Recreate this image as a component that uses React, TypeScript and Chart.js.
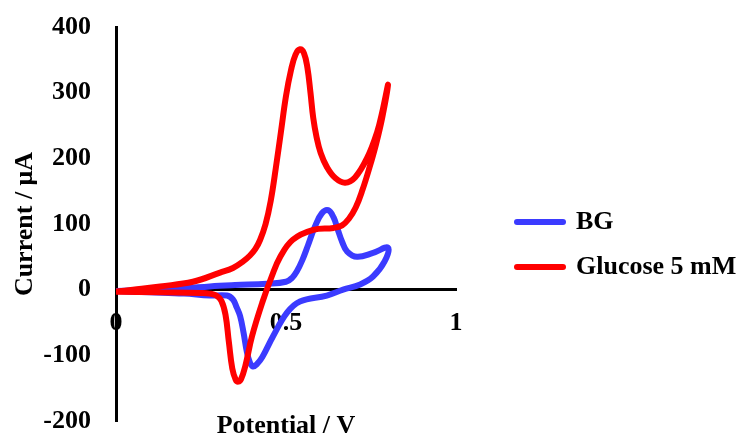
import React, { useEffect, useRef } from 'react';
import { Chart, registerables } from 'chart.js';

Chart.register(...registerables);

// ---- data ----
const X_TICKS = [0, 0.5, 1];
const Y_TICKS = [-200, -100, 0, 100, 200, 300, 400];
const SERIES_NAMES = ['BG', 'Glucose 5 mM'];
const X_TITLE = 'Potential / V';
const Y_TITLE = 'Current / μA';

// BG cyclic voltammogram: forward sweep then reverse sweep (V, μA)
const BG_V = [
  0, 0.05, 0.1, 0.2, 0.276, 0.35, 0.444, 0.5, 0.518, 0.532, 0.548, 0.565, 0.585, 0.605, 0.624, 0.64, 0.652, 0.665, 0.68, 0.709, 0.756, 0.8,
  0.79, 0.756, 0.718, 0.668, 0.62, 0.541, 0.503, 0.462, 0.43, 0.415, 0.403, 0.394, 0.385, 0.375, 0.365, 0.355, 0.344, 0.326, 0.276, 0.2, 0.1, 0,
];
const BG_I = [
  -2, -1, 0, 2, 5, 7, 9, 12, 18, 28, 45, 68, 96, 116, 121, 110, 92, 73, 58, 50, 56, 64,
  43, 20, 8, 0, -9, -18, -35, -71, -103, -113, -117, -111, -95, -65, -40, -27, -15, -9, -9, -6, -4, -2,
];

// Glucose 5 mM cyclic voltammogram (V, μA)
const GLU_V = [
  0, 0.13, 0.25, 0.276, 0.295, 0.31, 0.322, 0.332, 0.342, 0.352, 0.36, 0.368, 0.38, 0.4, 0.43, 0.458, 0.482, 0.52, 0.58, 0.64, 0.665, 0.685, 0.705, 0.725, 0.745, 0.765, 0.783, 0.8,
  0.785, 0.768, 0.738, 0.703, 0.674, 0.645, 0.62, 0.602, 0.59, 0.58, 0.572, 0.563, 0.553, 0.541, 0.528, 0.515, 0.5, 0.485, 0.47, 0.455, 0.44, 0.424, 0.41, 0.394, 0.374, 0.344, 0.306, 0.226, 0.13, 0.05, 0,
];
const GLU_I = [
  -3, -4, -5, -6, -9, -17, -38, -80, -120, -137, -140, -136, -117, -71, -20, 20, 49, 76, 91, 94, 98, 108, 125, 152, 185, 222, 262, 312,
  275, 240, 200, 171, 163, 170, 187, 208, 232, 262, 300, 338, 360, 366, 358, 335, 295, 240, 185, 135, 100, 76, 62, 52, 43, 33, 26, 12, 5, 0, -3,
];

const BLUE = '#3B3BFF';
const RED = '#FF0000';

const toPoints = (xs: number[], ys: number[]) => xs.map((x, i) => ({ x, y: ys[i] }));

export default function App() {
  const ref = useRef<HTMLCanvasElement | null>(null);

  useEffect(() => {
    if (!ref.current) return;
    const FONT = '"Liberation Serif", "Times New Roman", serif';
    Chart.defaults.color = '#000';
    Chart.defaults.font.family = FONT;

    const legendPlacer = {
      id: 'legendPlacer',
      afterLayout(chart: any) {
        const lg = chart.legend;
        if (!lg) return;
        const pad = lg.options.labels.padding;
        lg.left = 517 - pad;
        lg.right = chart.width;
        lg.width = lg.right - lg.left;
        lg.top = 222 - 13 - pad;
      },
    };

    const chart = new Chart(ref.current, {
      type: 'scatter',
      data: {
        datasets: [
          {
            label: SERIES_NAMES[0],
            data: toPoints(BG_V, BG_I),
            showLine: true,
            borderColor: BLUE,
            backgroundColor: BLUE,
            borderWidth: 6,
            pointRadius: 0,
            pointBorderWidth: 6,
            tension: 0.4,
            borderCapStyle: 'round',
            borderJoinStyle: 'round',
            order: 1,
          },
          {
            label: SERIES_NAMES[1],
            data: toPoints(GLU_V, GLU_I),
            showLine: true,
            borderColor: RED,
            backgroundColor: RED,
            borderWidth: 6,
            pointRadius: 0,
            pointBorderWidth: 6,
            tension: 0.4,
            borderCapStyle: 'round',
            borderJoinStyle: 'round',
            order: 0,
          },
        ],
      },
      options: {
        responsive: false,
        animation: false,
        devicePixelRatio: 1,
        layout: { padding: { top: 27, right: 85, bottom: 0, left: 0 } },
        plugins: {
          tooltip: { enabled: false },
          legend: {
            display: true,
            position: 'right',
            align: 'start',
            maxWidth: 200,
            labels: {
              usePointStyle: true,
              pointStyle: 'line',
              pointStyleWidth: 46,
              padding: 19,
              color: '#000',
              font: { family: FONT, size: 26, weight: 'bold' },
              sort: (a: any, b: any) => a.datasetIndex - b.datasetIndex,
              generateLabels: (c: any) =>
                (Chart.defaults.plugins.legend.labels.generateLabels as any)(c).map((l: any) => ({
                  ...l,
                  lineCap: 'round',
                  lineWidth: 6,
                })),
            },
          },
        },
        scales: {
          x: {
            type: 'linear',
            position: { y: 0 } as any,
            min: X_TICKS[0],
            max: X_TICKS[X_TICKS.length - 1],
            afterFit: (s: any) => {
              s.height = 0;
            },
            grid: { display: false, drawTicks: true, tickLength: 18 },
            border: { display: true, color: '#000', width: 3 },
            ticks: {
              stepSize: X_TICKS[1] - X_TICKS[0],
              padding: 0,
              color: '#000',
              maxRotation: 0,
              autoSkip: false,
              callback: (v: any) => (X_TICKS.includes(Number(v)) ? String(Number(v)) : ''),
              font: { family: FONT, size: 26, weight: 'bold' },
            },
          },
          x2: {
            type: 'linear',
            position: 'bottom',
            min: 0,
            max: 1,
            afterFit: (s: any) => {
              s.height = 18;
            },
            grid: { display: false, drawTicks: false },
            border: { display: false },
            ticks: { display: false },
            title: {
              display: true,
              text: X_TITLE,
              color: '#000',
              padding: { top: 0, bottom: 0 },
              font: { family: FONT, size: 26, weight: 'bold', lineHeight: 1 },
            },
          },
          y: {
            type: 'linear',
            position: 'left',
            min: Y_TICKS[0],
            max: Y_TICKS[Y_TICKS.length - 1],
            afterFit: (s: any) => {
              s.width = 116;
            },
            grid: { display: false, drawTicks: true, tickLength: 25 },
            border: { display: true, color: '#000', width: 3 },
            ticks: {
              stepSize: Y_TICKS[1] - Y_TICKS[0],
              padding: 0,
              color: '#000',
              font: { family: FONT, size: 26, weight: 'bold' },
            },
            title: {
              display: true,
              text: Y_TITLE,
              color: '#000',
              padding: { top: 12, bottom: 0 },
              font: { family: FONT, size: 26, weight: 'bold', lineHeight: 1 },
            },
          },
        },
      },
      plugins: [legendPlacer],
    } as any);

    return () => chart.destroy();
  }, []);

  return (
    <div style={{ position: 'absolute', left: 0, top: 0, width: 741, height: 439, background: '#fff' }}>
      <canvas ref={ref} width={741} height={439} style={{ display: 'block' }} />
    </div>
  );
}
